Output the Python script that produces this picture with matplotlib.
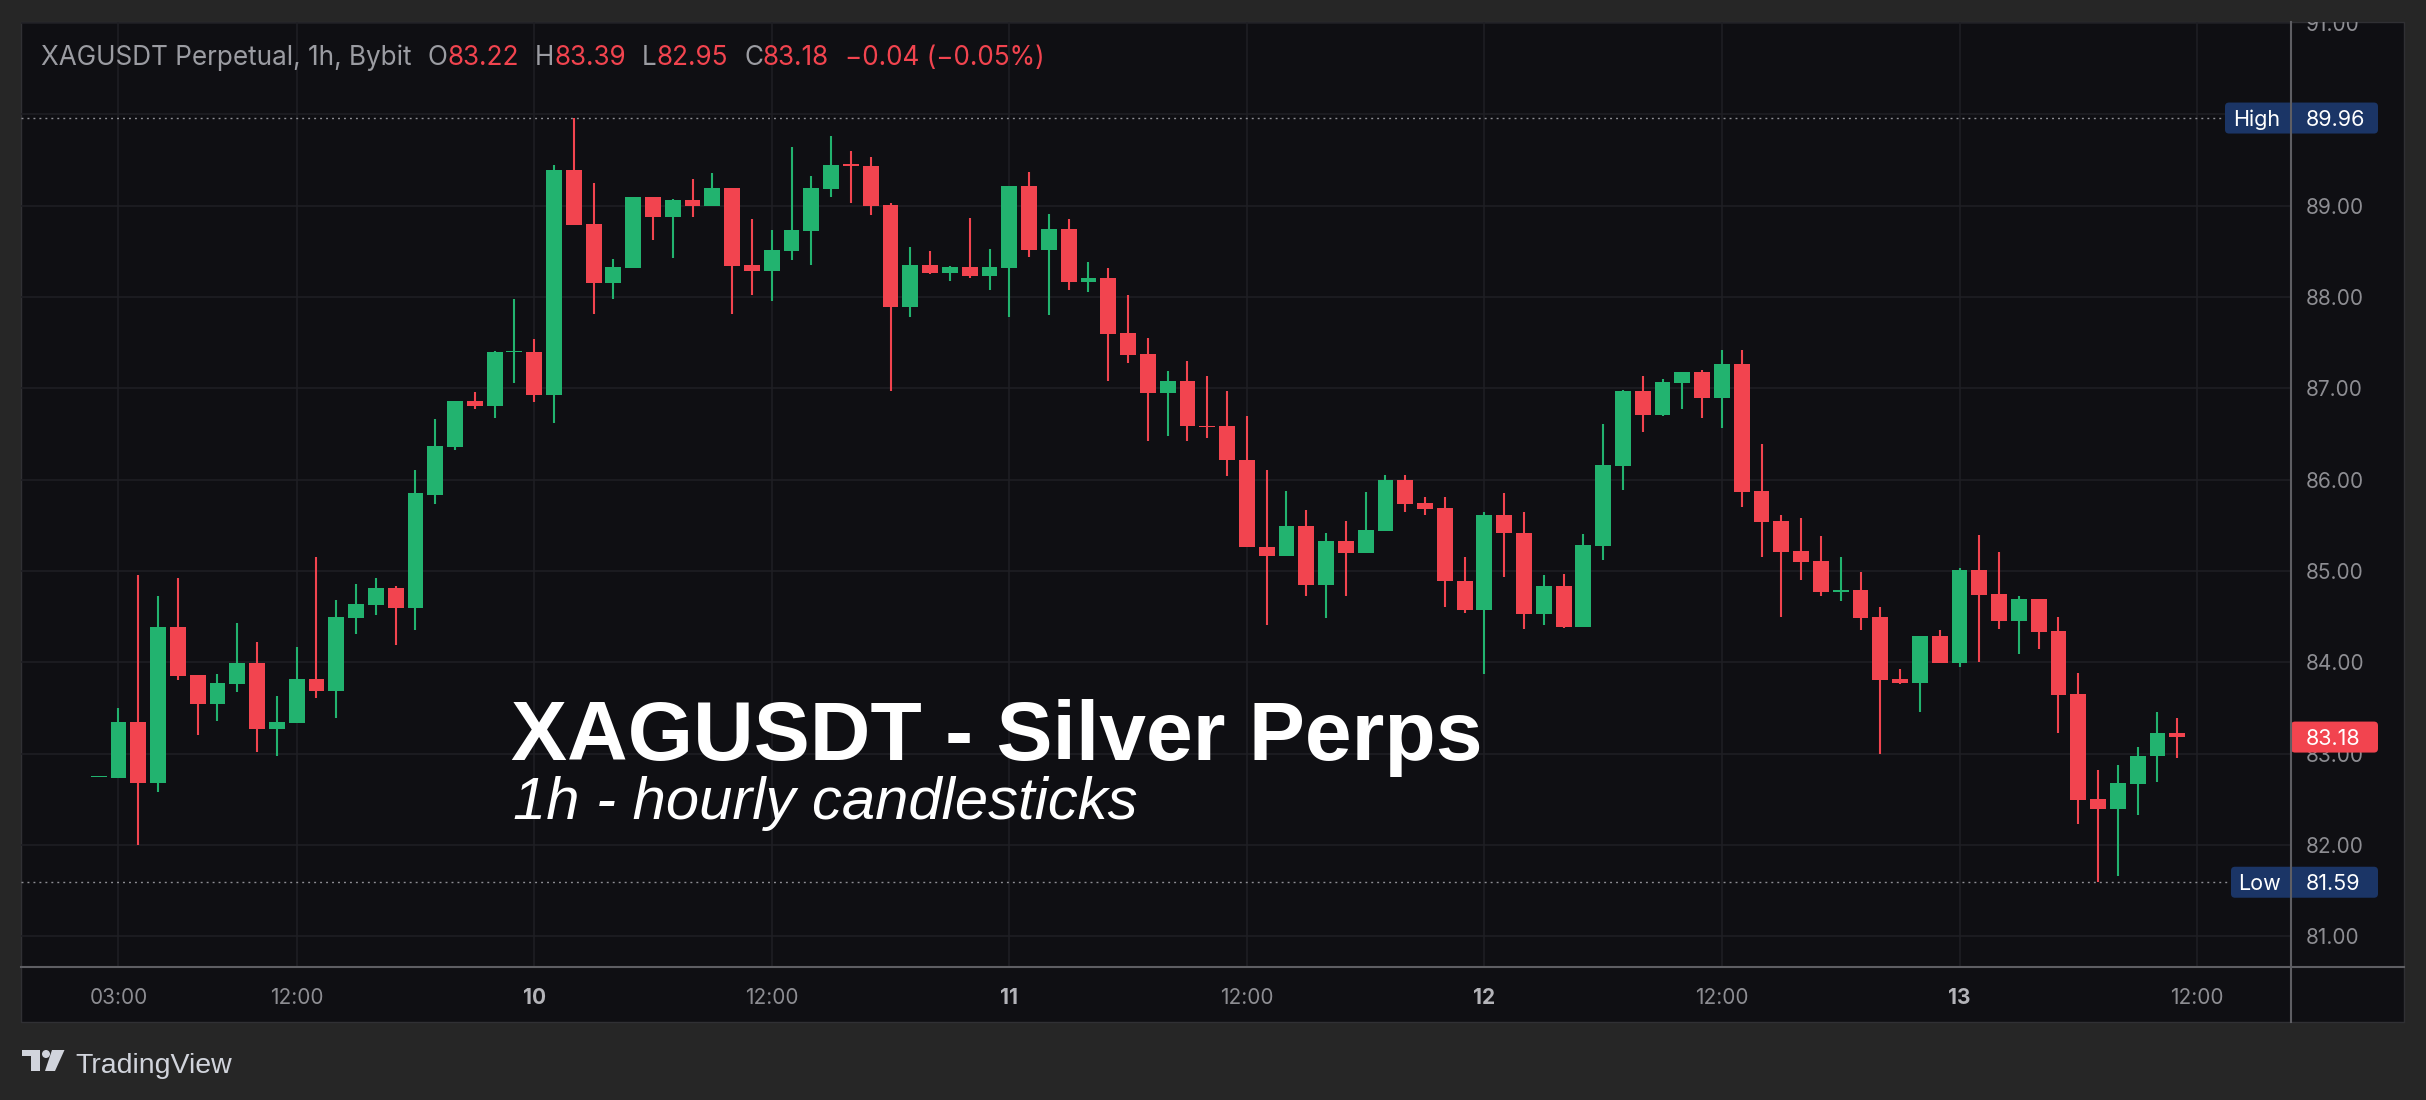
import numpy as np
import matplotlib
matplotlib.use("Agg")
import matplotlib.pyplot as plt
from matplotlib.patches import Rectangle, FancyBboxPatch, Polygon, Circle
from matplotlib.lines import Line2D
from matplotlib.transforms import IdentityTransform

plt.rcParams['font.family'] = ['Inter', 'DejaVu Sans']

W, H = 2426, 1100

# hourly candles, first one is 02:00 on the 9th
opens = [82.74, 82.73, 83.34, 82.68, 84.39, 83.86, 83.54, 83.76, 83.99, 83.27,
         83.33, 83.82, 83.69, 84.48, 84.63, 84.81, 84.59, 85.83, 86.36, 86.86,
         86.81, 87.40, 87.40, 86.93, 89.39, 88.80, 88.15, 88.32, 89.09, 88.88,
         89.06, 89.00, 89.19, 88.35, 88.29, 88.50, 88.72, 89.18, 89.45, 89.43,
         89.01, 87.89, 88.35, 88.26, 88.33, 88.23, 88.32, 89.22, 88.52, 88.75,
         88.16, 88.21, 87.61, 87.38, 86.95, 87.08, 86.59, 86.59, 86.21, 85.26,
         85.16, 85.49, 84.85, 85.33, 85.20, 85.44, 86.00, 85.74, 85.69, 84.89,
         84.57, 85.61, 85.42, 84.53, 84.84, 84.39, 85.27, 86.15, 86.97, 86.71,
         87.06, 87.18, 86.89, 87.27, 85.87, 85.55, 85.22, 85.11, 84.77, 84.79,
         84.49, 83.82, 83.77, 84.29, 83.99, 85.01, 84.75, 84.45, 84.69, 84.34,
         83.65, 82.50, 82.39, 82.67, 82.97, 83.22]
highs = [82.75, 83.50, 84.95, 84.72, 84.92, 83.86, 83.87, 84.43, 84.22, 83.63,
         84.17, 85.15, 84.68, 84.86, 84.92, 84.84, 86.10, 86.66, 86.86, 86.96,
         87.41, 87.98, 87.54, 89.45, 89.96, 89.25, 88.42, 89.10, 89.09, 89.07,
         89.29, 89.36, 89.19, 88.85, 88.73, 89.64, 89.32, 89.76, 89.60, 89.53,
         89.03, 88.55, 88.50, 88.34, 88.86, 88.53, 89.22, 89.37, 88.91, 88.85,
         88.38, 88.32, 88.02, 87.55, 87.19, 87.30, 87.13, 86.97, 86.70, 86.11,
         85.88, 85.67, 85.41, 85.55, 85.86, 86.05, 86.05, 85.81, 85.81, 85.15,
         85.65, 85.85, 85.65, 84.96, 84.97, 85.40, 86.61, 86.98, 87.13, 87.10,
         87.18, 87.20, 87.42, 87.42, 86.39, 85.61, 85.58, 85.38, 85.15, 84.99,
         84.61, 83.93, 84.29, 84.35, 85.03, 85.39, 85.21, 84.72, 84.69, 84.50,
         83.88, 82.82, 82.87, 83.07, 83.45, 83.39]
lows = [82.74, 82.73, 82.00, 82.58, 83.80, 83.20, 83.36, 83.67, 83.02, 82.97,
        83.33, 83.61, 83.39, 84.31, 84.52, 84.19, 84.35, 85.73, 86.32, 86.77,
        86.67, 87.06, 86.85, 86.62, 88.79, 87.81, 87.98, 88.32, 88.62, 88.43,
        88.88, 89.00, 87.81, 88.02, 87.96, 88.41, 88.35, 89.10, 89.03, 88.90,
        86.97, 87.78, 88.25, 88.17, 88.21, 88.08, 87.78, 88.44, 87.80, 88.08,
        88.05, 87.08, 87.28, 86.42, 86.48, 86.42, 86.46, 86.04, 85.26, 84.41,
        85.16, 84.73, 84.48, 84.72, 85.20, 85.44, 85.64, 85.61, 84.60, 84.54,
        83.87, 84.93, 84.36, 84.41, 84.38, 84.39, 85.12, 85.89, 86.52, 86.70,
        86.77, 86.68, 86.56, 85.70, 85.15, 84.49, 84.90, 84.73, 84.67, 84.35,
        82.99, 83.76, 83.46, 83.99, 83.95, 84.00, 84.36, 84.09, 84.15, 83.22,
        82.23, 81.59, 81.66, 82.33, 82.69, 82.95]
closes = [82.75, 83.34, 82.68, 84.39, 83.85, 83.54, 83.77, 83.99, 83.27, 83.34,
          83.82, 83.69, 84.49, 84.64, 84.81, 84.59, 85.85, 86.37, 86.86, 86.81,
          87.40, 87.41, 86.93, 89.39, 88.79, 88.15, 88.33, 89.09, 88.88, 89.06,
          89.00, 89.19, 88.34, 88.29, 88.51, 88.73, 89.19, 89.45, 89.44, 89.00,
          87.89, 88.35, 88.26, 88.33, 88.23, 88.33, 89.22, 88.52, 88.75, 88.16,
          88.21, 87.60, 87.37, 86.95, 87.08, 86.59, 86.58, 86.21, 85.26, 85.16,
          85.49, 84.85, 85.33, 85.20, 85.45, 86.00, 85.73, 85.68, 84.89, 84.57,
          85.61, 85.41, 84.53, 84.84, 84.39, 85.28, 86.16, 86.97, 86.71, 87.07,
          87.18, 86.89, 87.27, 85.86, 85.54, 85.21, 85.10, 84.77, 84.79, 84.48,
          83.81, 83.77, 84.29, 83.99, 85.01, 84.74, 84.45, 84.69, 84.33, 83.64,
          82.49, 82.39, 82.68, 82.97, 83.22, 83.18]

# x ticks in hours from the first candle
tick_hours = [1, 10, 22, 34, 46, 58, 70, 82, 94, 106]
tick_labels = ["03:00", "12:00", "10", "12:00", "11", "12:00", "12", "12:00", "13", "12:00"]
day_labels = ["10", "11", "12", "13"]
price_ticks = [81, 82, 83, 84, 85, 86, 87, 88, 89, 90, 91]

session_high = 89.96
session_low = 81.59
last_price = 83.18

title = "XAGUSDT - Silver Perps"
subtitle = "1h - hourly candlesticks"

BG = "#262626"
PANEL = "#0f0f13"
GRID = "#1f1f24"
AXIS = "#5e5e63"
TXT = "#8d8d92"
HDR = "#9b9ca2"
UP = "#22b36f"
DOWN = "#f2444f"
BLUE = "#1b3566"

header_pieces = [
    ("XAGUSDT Perpetual, 1h, Bybit", HDR, 16),
    ("O", HDR, 0), ("83.22", DOWN, 16),
    ("H", HDR, 0), ("83.39", DOWN, 16),
    ("L", HDR, 0), ("82.95", DOWN, 16),
    ("C", HDR, 0), ("83.18", DOWN, 16),
    ("\u22120.04 (\u22120.05%)", DOWN, 0),
]


def fx(px):
    return px / W


def fy(py):
    # py counted from the top of the image
    return 1 - py / H


fig = plt.figure(figsize=(W / 100, H / 100), dpi=100, facecolor=BG)

panel = Rectangle((fx(21), fy(1022)), fx(2404) - fx(21), fy(22) - fy(1022),
                  transform=fig.transFigure, facecolor=PANEL, edgecolor="#303034",
                  lw=1, zorder=-1)
fig.add_artist(panel)

ax = fig.add_axes([fx(21), fy(966.7), fx(2290.7) - fx(21), fy(22) - fy(966.7)])
ax.set_facecolor("none")
for s in ax.spines.values():
    s.set_visible(False)

x = np.arange(len(opens))
o = np.array(opens)
c = np.array(closes)
colors = np.where(c >= o, UP, DOWN)
body_lo = np.minimum(o, c)
body_h = np.maximum(np.abs(c - o), 0.012)

ax.vlines(x, lows, highs, colors=colors, lw=1.5, zorder=3)
ax.bar(x, body_h, bottom=body_lo, width=0.8, color=colors, lw=0, zorder=4)

ax.set_xlim(-3.925, 110.73)
ax.set_ylim(80.665, 91.012)

ax.set_xticks(tick_hours, tick_labels)
ax.set_yticks(price_ticks, [f"{p:.2f}" for p in price_ticks])
ax.yaxis.tick_right()
ax.grid(True, color=GRID, lw=1.1)
ax.set_axisbelow(True)
ax.tick_params(axis="x", length=0, pad=15, labelsize=15, labelcolor=TXT)
ax.tick_params(axis="y", length=0, pad=10.8, labelsize=15, labelcolor=TXT)
for lbl in ax.get_xticklabels():
    if lbl.get_text() in day_labels:
        lbl.set_fontweight("bold")
        lbl.set_color("#b4b4b9")
for t in ax.yaxis.get_major_ticks():
    t.label2.set_clip_path(panel)

# session high / low dotted lines
for p in (session_high, session_low):
    ax.axhline(p, color="#8e8e93", lw=1.0, ls=(0, (1.4, 2.9)), zorder=2)

# axis separators
fig.add_artist(Line2D([fx(21), fx(2404)], [fy(966.7), fy(966.7)],
                      transform=fig.transFigure, color=AXIS, lw=1.5, zorder=5))
fig.add_artist(Line2D([fx(2290.7), fx(2290.7)], [fy(22), fy(1022)],
                      transform=fig.transFigure, color=AXIS, lw=1.5, zorder=5))


def ypix(price):
    return ax.transData.transform((0, price))[1]


def price_box(x0, x1, price, color):
    yc = ypix(price)
    box = FancyBboxPatch((x0, yc - 15.5), x1 - x0, 31,
                         boxstyle="round,pad=0,rounding_size=4",
                         transform=IdentityTransform(), facecolor=color,
                         edgecolor="none", zorder=3)
    fig.add_artist(box)
    fig.text(2306, yc, f"{price:.2f}", transform=IdentityTransform(), ha="left",
             va="center_baseline", color="white", fontsize=15.5, zorder=4)
    return yc


yh = price_box(2225, 2378, session_high, BLUE)
fig.text(2257, yh, "High", transform=IdentityTransform(), ha="center",
         va="center_baseline", color="white", fontsize=15.5, zorder=4)
yl = price_box(2231, 2378, session_low, BLUE)
fig.text(2260, yl, "Low", transform=IdentityTransform(), ha="center",
         va="center_baseline", color="white", fontsize=15.5, zorder=4)
price_box(2291, 2378, last_price, DOWN)

# header line
renderer = fig.canvas.get_renderer()
xpos = 41
for text, color, gap in header_pieces:
    t = fig.text(fx(xpos), fy(65), text, color=color, fontsize=18.8, va="baseline")
    bb = t.get_window_extent(renderer)
    xpos = bb.x1 + gap

# big overlay title
fig.text(fx(511), fy(760), title, color="white", fontsize=60.5, fontweight="bold",
         family="Liberation Sans", va="baseline")
fig.text(fx(513), fy(819), subtitle, color="white", fontsize=43, style="italic",
         family="Liberation Sans", va="baseline")

# TradingView logo
logo_col = "#d1d4dc"
fig.add_artist(Polygon([(fx(21.5), fy(1050)), (fx(40), fy(1050)), (fx(40), fy(1071)),
                        (fx(31), fy(1071)), (fx(31), fy(1056)), (fx(21.5), fy(1056))],
                       closed=True, transform=fig.transFigure, facecolor=logo_col,
                       edgecolor="none"))
fig.add_artist(Polygon([(fx(52), fy(1050)), (fx(64.5), fy(1050)), (fx(55), fy(1071)),
                        (fx(45), fy(1071))],
                       closed=True, transform=fig.transFigure, facecolor=logo_col,
                       edgecolor="none"))
fig.add_artist(Circle((46, H - 1054), 4, transform=IdentityTransform(),
                      facecolor=logo_col, edgecolor="none"))
fig.text(fx(75.5), fy(1072.7), "TradingView", color=logo_col, fontsize=20.5,
         family="Liberation Sans", va="baseline")

fig.savefig("out.png", dpi=100, facecolor=fig.get_facecolor())
